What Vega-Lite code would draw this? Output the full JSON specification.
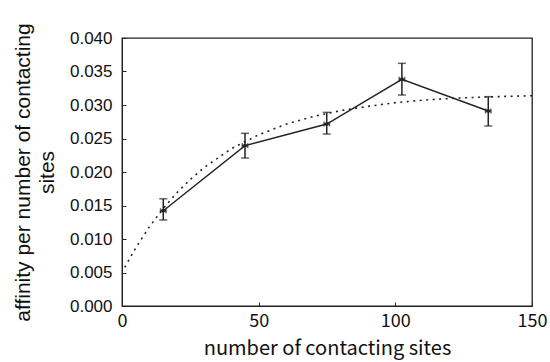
{
  "$schema": "https://vega.github.io/schema/vega-lite/v6.json",
  "width": 410,
  "height": 268,
  "autosize": {"type": "none"},
  "padding": {"left": 122, "top": 38, "right": 18, "bottom": 56},
  "background": "white",
  "config": {
    "view": {"stroke": "#222", "strokeWidth": 1.3},
    "axis": {"grid": false, "domainColor": "#222", "tickColor": "#222", "labelColor": "#111", "titleColor": "#111", "titleFontWeight": "normal"}
  },
  "datasets": {
    "obs": [
      {"sites": 15.1, "affinity": 0.01422, "lo": 0.01284, "hi": 0.0160, "xlo": 14.1, "xhi": 16.1},
      {"sites": 45.0, "affinity": 0.02393, "lo": 0.02209, "hi": 0.02577, "xlo": 44.0, "xhi": 46.0},
      {"sites": 74.9, "affinity": 0.02716, "lo": 0.02567, "hi": 0.0289, "xlo": 73.9, "xhi": 75.9},
      {"sites": 102.4, "affinity": 0.03383, "lo": 0.03149, "hi": 0.03622, "xlo": 101.4, "xhi": 103.4},
      {"sites": 134.0, "affinity": 0.0291, "lo": 0.02687, "hi": 0.03124, "xlo": 133.0, "xhi": 135.0}
    ],
    "fit": [
      {"sites": 1, "affinity": 0.00578},
      {"sites": 5, "affinity": 0.00866},
      {"sites": 10, "affinity": 0.01181},
      {"sites": 15, "affinity": 0.01451},
      {"sites": 20, "affinity": 0.01688},
      {"sites": 25, "affinity": 0.01888},
      {"sites": 30, "affinity": 0.02065},
      {"sites": 40, "affinity": 0.02348},
      {"sites": 50, "affinity": 0.02556},
      {"sites": 60, "affinity": 0.02713},
      {"sites": 70, "affinity": 0.02829},
      {"sites": 80, "affinity": 0.02916},
      {"sites": 90, "affinity": 0.0298},
      {"sites": 100, "affinity": 0.03035},
      {"sites": 110, "affinity": 0.03072},
      {"sites": 120, "affinity": 0.03098},
      {"sites": 130, "affinity": 0.03115},
      {"sites": 140, "affinity": 0.03128},
      {"sites": 150, "affinity": 0.03138}
    ]
  },
  "layer": [
    {
      "data": {"name": "fit"},
      "mark": {"type": "line", "color": "#222", "strokeWidth": 1.6, "strokeDash": [2, 4.5]},
      "encoding": {
        "x": {
          "field": "sites", "type": "quantitative",
          "scale": {"domain": [0, 150], "nice": false},
          "axis": {
            "values": [0, 50, 100, 150], "tickSize": -4, "labelPadding": 10,
            "labelFont": "Noto Sans CJK JP", "labelFontSize": 18, "labelFlush": false, "labelOverlap": false,
            "title": "number of contacting sites", "titleFont": "Noto Sans CJK JP", "titleFontSize": 20, "titlePadding": 8
          }
        },
        "y": {
          "field": "affinity", "type": "quantitative",
          "scale": {"domain": [0, 0.04], "nice": false},
          "axis": {
            "values": [0, 0.005, 0.01, 0.015, 0.02, 0.025, 0.03, 0.035, 0.04], "format": ".3f",
            "tickSize": -4, "labelPadding": 14, "labelOverlap": false, "labelBound": false, "tickCount": 9,
            "labelFont": "Liberation Sans", "labelFontSize": 17,
            "title": ["affinity per number of contacting", "sites"], "titleFont": "Liberation Sans", "titleFontSize": 21, "titleLineHeight": 24, "titlePadding": 12
          }
        }
      }
    },
    {
      "data": {"name": "obs"},
      "mark": {"type": "line", "color": "#222", "strokeWidth": 1.4},
      "encoding": {
        "x": {"field": "sites", "type": "quantitative"},
        "y": {"field": "affinity", "type": "quantitative"}
      }
    },
    {
      "data": {"name": "obs"},
      "mark": {"type": "rule", "color": "#222", "strokeWidth": 1.5},
      "encoding": {
        "x": {"field": "sites", "type": "quantitative"},
        "y": {"field": "lo", "type": "quantitative"},
        "y2": {"field": "hi"}
      }
    },
    {
      "data": {"name": "obs"},
      "mark": {"type": "tick", "orient": "horizontal", "color": "#222", "size": 8, "thickness": 1.5},
      "encoding": {
        "x": {"field": "sites", "type": "quantitative"},
        "y": {"field": "lo", "type": "quantitative"}
      }
    },
    {
      "data": {"name": "obs"},
      "mark": {"type": "tick", "orient": "horizontal", "color": "#222", "size": 8, "thickness": 1.5},
      "encoding": {
        "x": {"field": "sites", "type": "quantitative"},
        "y": {"field": "hi", "type": "quantitative"}
      }
    },
    {
      "data": {"name": "obs"},
      "mark": {"type": "rule", "color": "#222", "strokeWidth": 1.5},
      "encoding": {
        "x": {"field": "xlo", "type": "quantitative"},
        "x2": {"field": "xhi"},
        "y": {"field": "affinity", "type": "quantitative"}
      }
    },
    {
      "data": {"name": "obs"},
      "mark": {"type": "tick", "orient": "vertical", "color": "#222", "size": 5, "thickness": 1.5},
      "encoding": {
        "x": {"field": "xlo", "type": "quantitative"},
        "y": {"field": "affinity", "type": "quantitative"}
      }
    },
    {
      "data": {"name": "obs"},
      "mark": {"type": "tick", "orient": "vertical", "color": "#222", "size": 5, "thickness": 1.5},
      "encoding": {
        "x": {"field": "xhi", "type": "quantitative"},
        "y": {"field": "affinity", "type": "quantitative"}
      }
    },
    {
      "data": {"name": "obs"},
      "mark": {"type": "point", "shape": "square", "filled": true, "color": "#222", "size": 10, "opacity": 1},
      "encoding": {
        "x": {"field": "sites", "type": "quantitative"},
        "y": {"field": "affinity", "type": "quantitative"}
      }
    }
  ]
}
